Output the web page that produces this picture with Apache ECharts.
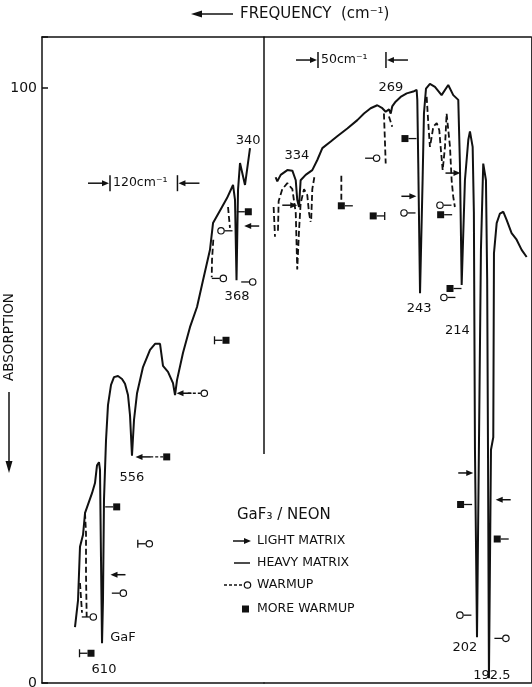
<!DOCTYPE html>
<html><head><meta charset="utf-8">
<script src="https://cdn.jsdelivr.net/npm/echarts@6/dist/echarts.min.js"></script>
<style>html,body{margin:0;padding:0;background:#fff}#c{width:532px;height:687px}</style>
</head><body><div id="c"></div>
<script>
// ---------- data (frequency in cm^-1, absorption in %) ----------
const yMax = 108.57;
const yTicks = [0, 100];
const leftRange = [322, 717];     // left panel frequency range
const rightRange = [161.5, 358.3];// right panel frequency range
const dividerBottom = 38.5;

const solidLeft = [[658.3,9.4],[652.9,13.9],[649.4,22.9],[644.0,24.9],[640.4,28.6],[628.0,31.9],[622.7,33.6],[619.1,36.6],[615.6,37.1],[613.8,35.8],[612.0,20.7],[610.2,6.7],[608.5,13.9],[606.7,30.8],[603.1,40.8],[599.6,46.7],[594.2,50.1],[588.9,51.4],[581.8,51.6],[574.6,51.1],[569.3,50.3],[564.0,48.4],[560.4,45.0],[556.9,38.2],[553.3,44.2],[547.9,48.7],[537.3,53.1],[524.8,56.0],[515.9,57.0],[507.0,57.0],[501.7,53.3],[492.8,52.3],[483.9,50.4],[480.3,48.4],[476.8,50.9],[466.1,55.5],[453.7,59.8],[441.2,63.2],[430.5,67.7],[418.1,72.8],[412.7,77.3],[396.7,80.0],[387.8,81.5],[377.1,83.7],[373.6,81.2],[370.9,67.7],[368.2,82.9],[364.7,87.4],[355.8,83.7],[346.9,89.9]];

const solidRight = [[349.7,85.0],[348.5,84.3],[346.0,85.4],[341.1,86.2],[337.4,86.1],[334.9,84.5],[333.8,81.2],[332.5,80.0],[331.3,84.5],[327.6,85.4],[322.7,86.2],[319.0,87.9],[315.3,89.9],[309.1,91.0],[304.3,91.9],[296.9,93.2],[289.5,94.6],[284.6,95.7],[279.7,96.6],[274.8,97.1],[271.1,96.6],[268.6,96.0],[266.2,96.4],[264.9,95.7],[263.8,96.9],[261.3,97.7],[257.6,98.5],[253.1,99.1],[248.3,99.4],[245.8,99.7],[245.3,98.0],[244.6,87.4],[243.3,65.5],[241.4,84.5],[240.4,95.7],[238.9,99.9],[236.0,100.7],[232.3,100.2],[227.4,98.8],[222.5,100.5],[218.8,98.8],[215.1,98.0],[213.9,87.3],[212.6,66.9],[210.2,84.5],[207.7,91.3],[206.5,92.7],[204.5,90.1],[203.6,79.0],[202.8,39.2],[201.3,7.7],[199.9,39.2],[198.4,72.8],[196.7,87.3],[194.7,84.5],[193.8,67.7],[193.2,39.2],[192.5,0.8],[191.0,39.2],[189.3,41.3],[188.8,72.2],[186.8,77.3],[184.4,78.9],[181.9,79.2],[179.4,77.8],[175.8,75.6],[172.1,74.5],[168.4,72.8],[164.7,71.6]];

const warmupDashLeft = [
  [[640.5,28.6],[638.7,25.2],[638.7,18.2],[637.5,11.1]],
  [[649.4,16.8],[645.8,11.8]],
  [[412.2,74.5],[414.5,71.1],[415.0,68.2]],
  [[386.0,80.0],[384.3,78.2],[382.5,76.5]]
];
const warmupDashRight = [
  [[351.2,80.0],[350.2,75.0]],
  [[348.0,76.0],[347.5,81.0],[344.8,83.0],[341.1,84.0],[337.4,83.0],[334.9,79.0],[333.8,69.5],[332.5,76.0],[331.3,80.6],[328.8,83.0],[326.4,82.0],[325.1,79.0],[323.9,77.5]],
  [[323.5,78.0],[322.7,83.0],[321.2,85.0]],
  [[269.9,95.7],[269.2,91.3],[268.6,87.3]],
  [[266.2,95.2],[263.8,93.5]],
  [[238.4,98.5],[237.2,94.1],[236.0,90.1],[234.7,91.8],[233.5,93.5],[231.0,94.1],[229.1,92.9],[228.1,90.1],[226.6,86.2],[224.9,90.1],[223.7,95.7],[222.5,96.0],[221.2,90.1],[220.0,84.5],[218.8,81.7],[217.6,80.0]],
  [[301.3,81.2],[301.3,85.7]]
];

// markers: [frequency, absorption, side]  side: L/R = tail (or arrow) direction, B = bar end, D = dashed tail
const lightLeft = [[581.8,18.2,'L'],[537.3,38.0,'L'],[464.3,48.7,'L'],[343.9,76.8,'L']];
const warmupLeft = [[625.7,11.1,'L'],[572.3,15.1,'L'],[526.1,23.4,'LB'],[428.2,48.7,'LD'],[398.5,76.0,'R'],[394.4,68.0,'L'],[342.1,67.4,'L']];
const moreWarmupLeft = [[629.8,5.0,'LB'],[584.1,29.6,'L'],[495.1,38.0,'LD'],[389.6,57.6,'LB'],[349.9,79.2,'L']];

const lightRight = [[339.3,80.3,'R'],[251.5,81.8,'R'],[219.0,85.7,'R'],[209.6,35.3,'R'],[182.0,30.8,'L']];
const warmupRight = [[275.3,88.2,'L'],[255.1,79.0,'R'],[228.6,80.3,'R'],[225.7,64.8,'R'],[213.9,11.4,'R'],[180.0,7.5,'L']];
const moreWarmupRight = [[301.3,80.2,'R'],[277.8,78.5,'RB'],[254.4,91.5,'R'],[228.1,78.7,'R'],[221.2,66.3,'R'],[213.4,30.0,'R'],[186.4,24.2,'R']];

const peakLabelsLeft = [['610',606.7,2.2],['GaF',572.9,7.7],['556',556.9,34.5],['368',370.0,65.0],['340',350.4,91.1]];
const peakLabelsRight = [['334',334.0,88.7],['269',264.7,100.0],['243',244.0,63.0],['214',215.7,59.2],['202',210.2,5.9],['192.5',190.3,1.3]];

const scaleLeft = [[596,476,84.0]];
const scaleRight = [[318.5,268.4,104.7]];
const scaleTexts = ['120cm\u207B\u00B9','50cm\u207B\u00B9'];

const legendItems = ['LIGHT MATRIX','HEAVY MATRIX','WARMUP','MORE WARMUP'];

// ---------- rendering ----------
const FONT = 'DejaVu Sans';
const INK = '#111';
const chart = echarts.init(document.getElementById('c'), null, {renderer:'canvas'});

function solid(data, gi, w) {
  return {type:'line', xAxisIndex:gi, yAxisIndex:gi, data, showSymbol:false, symbol:'none', clip:false,
    lineStyle:{color:INK, width:w||2}, silent:true, z:3};
}
function dashed(data, gi) {
  return {type:'line', xAxisIndex:gi, yAxisIndex:gi, data, showSymbol:false, symbol:'none', clip:false,
    lineStyle:{color:INK, width:1.8, type:[6,3]}, silent:true, z:3};
}
function markers(arr, gi, kind) {
  return {type:'custom', xAxisIndex:gi, yAxisIndex:gi, clip:false, silent:true, z:5,
    data: arr.map(d=>[d[0], d[1]]), encode:{x:0, y:1},
    renderItem(params, api) {
      const p = api.coord([api.value(0), api.value(1)]);
      const side = arr[params.dataIndex][2];
      const s = side[0] === 'L' ? -1 : 1;
      const bar = side.indexOf('B') >= 0, dsh = side.indexOf('D') >= 0;
      const ch = [];
      if (kind === 'arrow') {
        const len = 15, hx = p[0] + s*len/2;
        ch.push({type:'line', shape:{x1:p[0]-s*len/2, y1:p[1], x2:hx - s*4, y2:p[1]}, style:{stroke:INK, lineWidth:1.5}});
        ch.push({type:'polygon', shape:{points:[[hx,p[1]],[hx-s*7,p[1]-3],[hx-s*7,p[1]+3]]}, style:{fill:INK}});
      } else {
        const r = 3.5, tl = dsh ? 14 : 8;
        const x1 = p[0] + s*r, x2 = p[0] + s*(r+tl);
        ch.push({type:'line', shape:{x1, y1:p[1], x2, y2:p[1]}, style:{stroke:INK, lineWidth:1.3, lineDash: dsh ? [3,2] : null}});
        if (bar) ch.push({type:'line', shape:{x1:x2, y1:p[1]-4, x2:x2, y2:p[1]+4}, style:{stroke:INK, lineWidth:1.3}});
        if (kind === 'circle') ch.push({type:'circle', shape:{cx:p[0], cy:p[1], r:3.2}, style:{fill:'#fff', stroke:INK, lineWidth:1.2}});
        else ch.push({type:'rect', shape:{x:p[0]-3.5, y:p[1]-3.5, width:7, height:7}, style:{fill:INK}});
      }
      return {type:'group', children:ch};
    }};
}
function textStyle(t, size, align) {
  return {text:t, fill:INK, fontSize:size, fontFamily:FONT, font: size+'px "'+FONT+'"',
    align:align||'center', verticalAlign:'middle', textAlign:align||'center', textVerticalAlign:'middle'};
}
function labels(arr, gi) {
  return {type:'custom', xAxisIndex:gi, yAxisIndex:gi, clip:false, silent:true, z:6,
    data: arr.map(d=>[d[1], d[2]]), encode:{x:0, y:1},
    renderItem(params, api) {
      const p = api.coord([api.value(0), api.value(1)]);
      return {type:'text', x:p[0], y:p[1], style:textStyle(arr[params.dataIndex][0], 13)};
    }};
}
function scaleBar(arr, gi, txt) {
  return {type:'custom', xAxisIndex:gi, yAxisIndex:gi, clip:false, silent:true, z:6,
    data: arr.map(d=>[d[0], d[1], d[2]]), encode:{x:[0,1], y:2},
    renderItem(params, api) {
      const a = api.coord([api.value(0), api.value(2)]);
      const b = api.coord([api.value(1), api.value(2)]);
      const y = a[1], ch = [];
      [a[0], b[0]].forEach(x => ch.push({type:'line', shape:{x1:x, y1:y-8, x2:x, y2:y+8}, style:{stroke:INK, lineWidth:1.5}}));
      ch.push({type:'line', shape:{x1:a[0]-22, y1:y, x2:a[0]-6, y2:y}, style:{stroke:INK, lineWidth:1.5}});
      ch.push({type:'polygon', shape:{points:[[a[0]-1,y],[a[0]-8,y-3],[a[0]-8,y+3]]}, style:{fill:INK}});
      ch.push({type:'line', shape:{x1:b[0]+22, y1:y, x2:b[0]+6, y2:y}, style:{stroke:INK, lineWidth:1.5}});
      ch.push({type:'polygon', shape:{points:[[b[0]+1,y],[b[0]+8,y-3],[b[0]+8,y+3]]}, style:{fill:INK}});
      ch.push({type:'text', x:a[0]+3, y:y, style:textStyle(txt, 12.5, 'left')});
      return {type:'group', children:ch};
    }};
}

const axisLineStyle = {color:INK, width:1.5};
const xBase = (gi, range, pos) => ({gridIndex:gi, type:'value', min:range[0], max:range[1], inverse:true, position:pos,
  axisLine:{show:true, onZero:false, lineStyle:axisLineStyle}, axisTick:{show:false}, axisLabel:{show:false}, splitLine:{show:false}});

const series = [
  solid(solidLeft, 0), solid(solidRight, 1),
  ...warmupDashLeft.map(s => dashed(s, 0)),
  ...warmupDashRight.map(s => dashed(s, 1)),
  {type:'line', xAxisIndex:1, yAxisIndex:1, data:[[rightRange[1], dividerBottom],[rightRange[1], yMax]], symbol:'none', clip:false, lineStyle:{color:INK, width:1.5}, silent:true},
  markers(lightLeft, 0, 'arrow'), markers(warmupLeft, 0, 'circle'), markers(moreWarmupLeft, 0, 'square'),
  markers(lightRight, 1, 'arrow'), markers(warmupRight, 1, 'circle'), markers(moreWarmupRight, 1, 'square'),
  labels(peakLabelsLeft, 0), labels(peakLabelsRight, 1),
  scaleBar(scaleLeft, 0, scaleTexts[0]), scaleBar(scaleRight, 1, scaleTexts[1])
];

const lx = 257, ly = [541, 563, 585, 609];
const graphic = [
  // title
  {type:'polygon', shape:{points:[[191,14],[202,10.5],[202,17.5]]}, style:{fill:INK}},
  {type:'line', shape:{x1:200, y1:14, x2:233, y2:14}, style:{stroke:INK, lineWidth:1.5}},
  {type:'text', x:240, y:14, style:textStyle('FREQUENCY  (cm\u207B\u00B9)', 15, 'left')},
  // y-axis title
  {type:'text', x:9, y:337, rotation:Math.PI/2, style:textStyle('ABSORPTION', 13.5)},
  {type:'line', shape:{x1:9, y1:392, x2:9, y2:462}, style:{stroke:INK, lineWidth:1.5}},
  {type:'polygon', shape:{points:[[9,473],[5.5,461],[12.5,461]]}, style:{fill:INK}},
  // legend
  {type:'text', x:237, y:515, style:textStyle('GaF\u2083 / NEON', 15, 'left')},
  {type:'line', shape:{x1:233, y1:ly[0], x2:245, y2:ly[0]}, style:{stroke:INK, lineWidth:1.5}},
  {type:'polygon', shape:{points:[[251,ly[0]],[244,ly[0]-3],[244,ly[0]+3]]}, style:{fill:INK}},
  {type:'line', shape:{x1:234, y1:ly[1], x2:250, y2:ly[1]}, style:{stroke:INK, lineWidth:1.5}},
  {type:'line', shape:{x1:224, y1:ly[2], x2:244, y2:ly[2]}, style:{stroke:INK, lineWidth:1.3, lineDash:[3,2]}},
  {type:'circle', shape:{cx:247.5, cy:ly[2], r:3.2}, style:{fill:'#fff', stroke:INK, lineWidth:1.2}},
  {type:'rect', shape:{x:242, y:ly[3]-3.5, width:7, height:7}, style:{fill:INK}},
  ...legendItems.map((t,i) => ({type:'text', x:lx, y:ly[i], style:textStyle(t, 12.5, 'left')}))
];

chart.setOption({
  animation:false,
  backgroundColor:'#fff',
  grid:[{left:42, top:37, width:222, height:646, outerBoundsMode:'none', containLabel:false},
        {left:264, top:37, width:267, height:646, outerBoundsMode:'none', containLabel:false}],
  xAxis:[xBase(0, leftRange, 'bottom'), xBase(1, rightRange, 'bottom'), xBase(0, leftRange, 'top'), xBase(1, rightRange, 'top')],
  yAxis:[
    {gridIndex:0, type:'value', min:0, max:yMax, interval:100,
      axisLine:{show:true, onZero:false, lineStyle:axisLineStyle},
      axisTick:{show:true, inside:true, length:6, lineStyle:axisLineStyle},
      axisLabel:{formatter: v => yTicks.indexOf(v) >= 0 ? String(v) : '', fontSize:14, color:INK, fontFamily:FONT, margin:5},
      splitLine:{show:false}},
    {gridIndex:1, type:'value', min:0, max:yMax, show:false},
    {gridIndex:1, type:'value', min:0, max:yMax, position:'right',
      axisLine:{show:true, onZero:false, lineStyle:{color:'#333', width:1}}, axisTick:{show:false}, axisLabel:{show:false}, splitLine:{show:false}}
  ],
  graphic,
  series
});
</script></body></html>
